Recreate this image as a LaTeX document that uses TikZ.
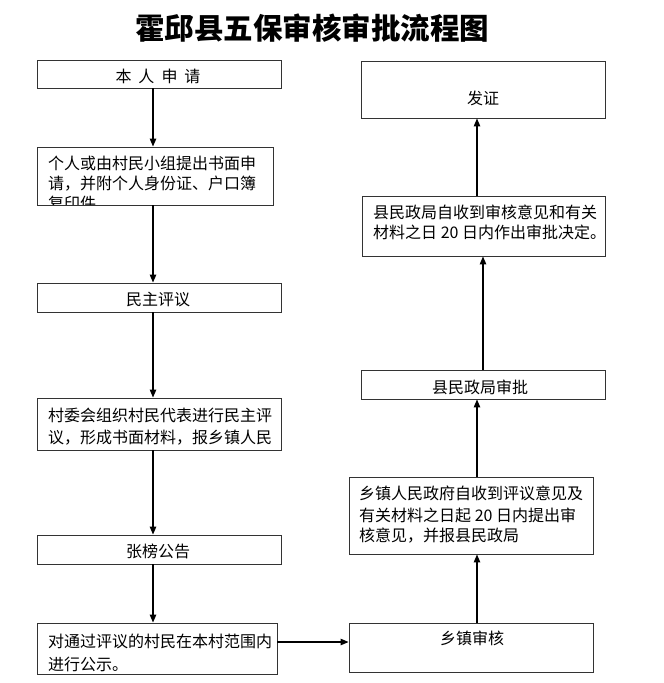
\documentclass[tikz,border=0pt]{standalone}
\usepackage{fontspec}
\setmainfont{Noto Sans CJK SC}
\usetikzlibrary{arrows.meta}
\tikzset{
  box/.style={draw=black!80, line width=0.9pt, inner sep=0pt, minimum width=#1},
  box/.default=244pt,
  txt/.style={font=\fontsize{16}{20}\selectfont, inner sep=0pt, anchor=base west},
  ctxt/.style={font=\fontsize{16}{20}\selectfont, inner sep=0pt, anchor=base},
  arr/.style={line width=1.1pt, -{Triangle[length=8pt,width=6.5pt]}}
}
\begin{document}
\begin{tikzpicture}[x=1pt,y=-1pt]
\useasboundingbox (0,0) rectangle (664,683);
% title
\node[font=\fontsize{29.5}{31}\selectfont\bfseries, inner sep=0pt] (title) at (312,28) {霍邱县五保审核审批流程图};
% left column boxes
\node[box, minimum height=28pt] (b1) at (159,74) {};
\node[box=236pt, minimum height=58pt] (b2) at (155,176) {};
\node[box, minimum height=29pt] (b3) at (159,297.5) {};
\node[box, minimum height=52pt] (b4) at (159,424) {};
\node[box, minimum height=29pt] (b5) at (159,549.5) {};
\node[box=240pt, minimum height=51pt] (b6) at (157,648.5) {};
% right column boxes
\node[box, minimum height=57pt] (r1) at (483,89.5) {};
\node[box=243pt, minimum height=60pt] (r2) at (483.5,226) {};
\node[box, minimum height=29pt] (r3) at (483,384.5) {};
\node[box, minimum height=77pt] (r4) at (471,515.5) {};
\node[box, minimum height=49pt] (r5) at (471,647.5) {};
% texts
\node[ctxt] (t1) at (158,82) {本\hspace{7pt}人\hspace{7pt}申\hspace{7pt}请};
\begin{scope}
\clip (37.5,147.5) rectangle (272.5,204.3);
\node[txt] (t2a) at (48,169.5) {个人或由村民小组提出书面申};
\node[txt] (t2b) at (48,189.5) {请，并附个人身份证、户口簿};
\node[txt] (t2c) at (48,209.5) {复印件。};
\end{scope}
\node[ctxt] (t3) at (158,305.5) {民主评议};
\node[txt] (t4a) at (48,421.5) {村委会组织村民代表进行民主评};
\node[txt] (t4b) at (48,443.5) {议，形成书面材料，报乡镇人民};
\node[ctxt] (t5) at (158,557.5) {张榜公告};
\node[txt] (t6a) at (48,647.5) {对通过评议的村民在本村范围内};
\node[txt] (t6b) at (48,670.5) {进行公示。};
\node[ctxt] (s1) at (483,104.5) {发证};
\node[txt] (s2a) at (373,218.5) {县民政局自收到审核意见和有关};
\node[txt] (s2b) at (373,238.5) {材料之日 20 日内作出审批决定。};
\node[ctxt] (s3) at (480,393.5) {县民政局审批};
\node[txt] (s4a) at (359,499.5) {乡镇人民政府自收到评议意见及};
\node[txt] (s4b) at (359,521.5) {有关材料之日起 20 日内提出审};
\node[txt] (s4c) at (359,541.5) {核意见，并报县民政局};
\node[ctxt] (s5) at (472,644.5) {乡镇审核};
% connector guides
\coordinate (lc) at (153,0);
\coordinate (rc) at (477,0);
\coordinate (rc2) at (483,0);
\coordinate (hy) at (0,642);
% connectors
\draw[arr] (b1.south -| lc) -- (b2.north -| lc);
\draw[arr] (b2.south -| lc) -- (b3.north -| lc);
\draw[arr] (b3.south -| lc) -- (b4.north -| lc);
\draw[arr] (b4.south -| lc) -- (b5.north -| lc);
\draw[arr] (b5.south -| lc) -- (b6.north -| lc);
\draw[arr] (b6.east |- hy) -- (r5.west |- hy);
\draw[arr] (r5.north -| rc) -- (r4.south -| rc);
\draw[arr] (r4.north -| rc) -- (r3.south -| rc);
\draw[arr] (r3.north -| rc2) -- (r2.south -| rc2);
\draw[arr] (r2.north -| rc) -- (r1.south -| rc);
\end{tikzpicture}
\end{document}
